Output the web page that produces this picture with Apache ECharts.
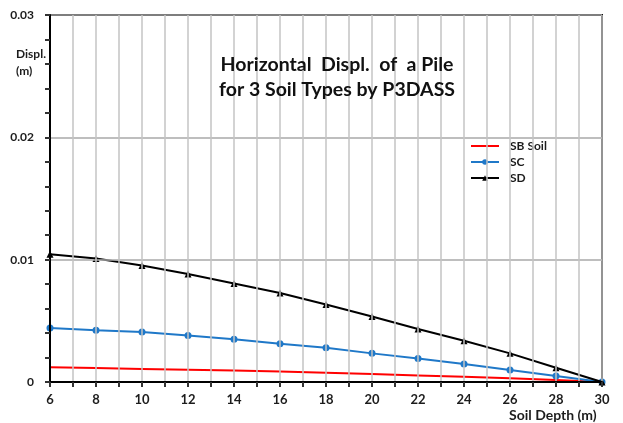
<!DOCTYPE html>
<html>
<head>
<meta charset="utf-8">
<script src="https://cdn.jsdelivr.net/npm/echarts@6/dist/echarts.min.js"></script>
<style>
  html, body { margin: 0; padding: 0; background: #fff; }
  #main { width: 623px; height: 423px; }
</style>
</head>
<body>
<div id="main"></div>
<script>
// soil depth (m)
var depth = [6, 8, 10, 12, 14, 16, 18, 20, 22, 24, 26, 28, 30];
// horizontal displacement (m)
var sbSoil = [0.0012, 0.00114, 0.00107, 0.0010, 0.00093, 0.00085, 0.00075, 0.00065, 0.00054, 0.00043, 0.00031, 0.00016, 0];
var sc = [0.00441, 0.00424, 0.00408, 0.00381, 0.00349, 0.00313, 0.0028, 0.00234, 0.00193, 0.00147, 0.00098, 0.00049, 0];
var sd = [0.01045, 0.0101, 0.00952, 0.00882, 0.00806, 0.00727, 0.00634, 0.00536, 0.00433, 0.00337, 0.00234, 0.00117, 0];
var seriesNames = ['SB Soil', 'SC', 'SD'];

function pairs(ys) {
    return depth.map(function (x, i) { return [x, ys[i]]; });
}

var font = 'Lato, "Open Sans", sans-serif';
var txt = '#1c1c1c';

var myChart = echarts.init(document.getElementById('main'));
var option = {
    backgroundColor: '#fff',
    animation: false,
    title: {
        text: 'Horizontal  Displ.  of  a Pile\nfor 3 Soil Types by P3DASS',
        left: 332,
        top: 47,
        textAlign: 'center',
        textStyle: { fontFamily: font, fontWeight: 'bold', fontSize: 19.5, lineHeight: 25, color: '#111' }
    },
    grid: { left: 50, right: 21, top: 15, bottom: 41 },
    legend: {
        orient: 'vertical',
        left: 465,
        top: 135,
        itemWidth: 28,
        itemHeight: 7,
        itemGap: 4,
        data: [
            { name: seriesNames[0], itemStyle: { opacity: 0 } },
            seriesNames[1],
            seriesNames[2]
        ],
        textStyle: { fontFamily: font, fontWeight: 'bold', fontSize: 12, color: txt, padding: [0, 0, 0, 6] }
    },
    xAxis: [
        {
            type: 'value',
            z: 6,
            min: 6, max: 30, interval: 2,
            axisLine: { show: true, lineStyle: { color: '#000', width: 2 } },
            axisTick: { show: true, length: 5, lineStyle: { color: '#333', width: 2 } },
            minorTick: { show: true, splitNumber: 2, length: 5, lineStyle: { color: '#333', width: 2 } },
            splitLine: { show: true, lineStyle: { color: '#c4c4c4', width: 1.5 } },
            minorSplitLine: { show: true, lineStyle: { color: '#c4c4c4', width: 1.5 } },
            axisLabel: { fontFamily: font, fontWeight: 'bold', fontSize: 13, color: txt, margin: 11 }
        },
        {
            // top border of the plot
            type: 'value', position: 'top',
            min: 6, max: 30, interval: 2,
            axisLine: { show: true, onZero: false, lineStyle: { color: '#000', width: 2 } },
            axisTick: { show: false }, axisLabel: { show: false }, splitLine: { show: false }
        }
    ],
    yAxis: [
        {
            type: 'value',
            z: 6,
            min: 0, max: 0.03, interval: 0.01,
            axisLine: { show: true, onZero: false, lineStyle: { color: '#000', width: 2 } },
            axisTick: { show: true, length: 5, lineStyle: { color: '#333', width: 2 } },
            minorTick: { show: true, splitNumber: 5, length: 5, lineStyle: { color: '#333', width: 2 } },
            splitLine: { show: true, lineStyle: { color: '#a8a8a8', width: 1.5 } },
            axisLabel: {
                fontFamily: font, fontWeight: 'bold', fontSize: 12, color: txt, margin: 16,
                formatter: function (v) { return v === 0 ? '0' : v.toFixed(2); }
            }
        },
        {
            // right border of the plot
            type: 'value', position: 'right',
            min: 0, max: 0.03, interval: 0.01,
            axisLine: { show: true, onZero: false, lineStyle: { color: '#000', width: 2 } },
            axisTick: { show: false }, axisLabel: { show: false }, splitLine: { show: false }
        }
    ],
    graphic: [
        {
            type: 'text', left: 16, top: 46,
            style: { text: 'Displ.\n(m)', align: 'center', fontFamily: font, fontWeight: 'bold', fontSize: 12, lineHeight: 17, fill: txt }
        },
        {
            type: 'text', left: 509, top: 408,
            style: { text: 'Soil Depth (m)', fontFamily: font, fontWeight: 'bold', fontSize: 14, fill: txt }
        }
    ],
    series: [
        {
            name: seriesNames[0], type: 'line', data: pairs(sbSoil),
            showSymbol: false, symbol: 'none',
            lineStyle: { color: '#ff0000', width: 2 }, itemStyle: { color: '#ff0000' }, z: 3
        },
        {
            name: seriesNames[1], type: 'line', data: pairs(sc),
            symbol: 'circle', symbolSize: 7,
            lineStyle: { color: '#1f78c8', width: 2 }, itemStyle: { color: '#1f78c8' }, z: 4
        },
        {
            name: seriesNames[2], type: 'line', data: pairs(sd),
            symbol: 'triangle', symbolSize: 7,
            lineStyle: { color: '#000', width: 2 }, itemStyle: { color: '#000' }, z: 5
        }
    ]
};
myChart.setOption(option);
</script>
</body>
</html>
